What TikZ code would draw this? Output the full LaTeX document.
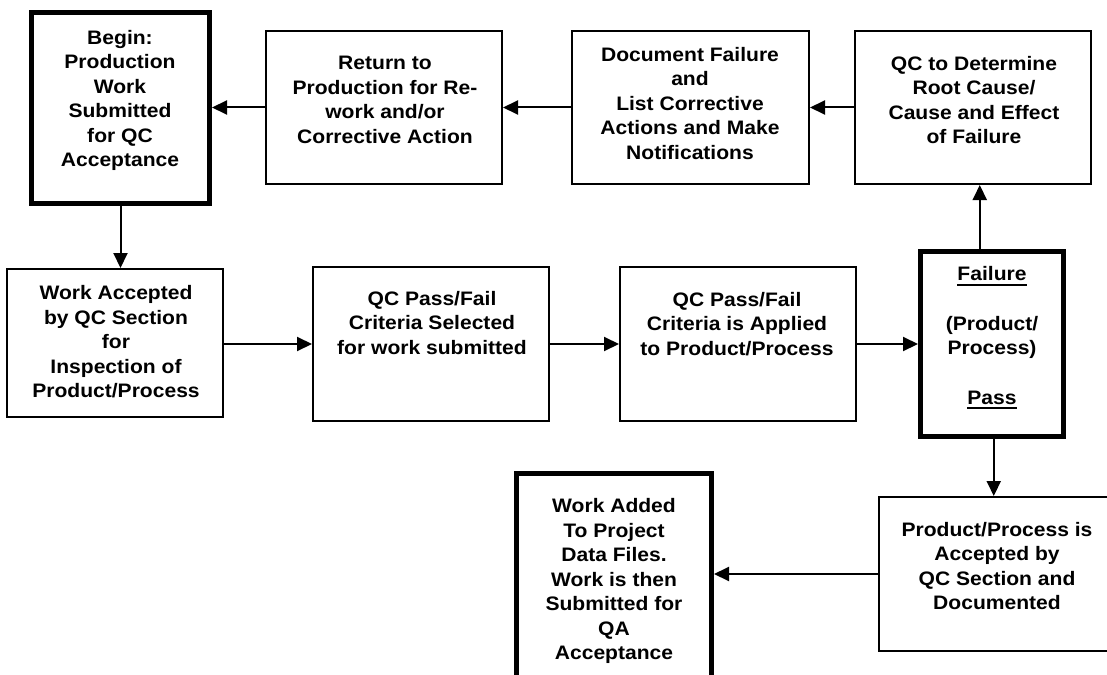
\documentclass[tikz,border=0pt]{standalone}
\usepackage{fontspec}
\setmainfont{Liberation Sans}[FakeStretch=1.08]
\usetikzlibrary{arrows.meta}
\newcommand\ulx[1]{\setbox0=\hbox{#1}\rlap{\rule[-5pt]{\wd0}{2pt}}\box0}
\tikzset{
  box/.style={draw=black, line width=2pt, rectangle, inner sep=0pt},
  thickbox/.style={draw=black, line width=5pt, rectangle, inner sep=0pt},
  txt/.style={font=\fontsize{19.5}{24.5}\selectfont\bfseries, align=center, inner sep=0pt},
  arr/.style={line width=2pt, -{Triangle[length=15pt,width=14pt]}},
}
\begin{document}
\begin{tikzpicture}[x=1pt,y=-1pt]
\useasboundingbox (0,0) rectangle (1107,674);
% boxes (centre, width, height)
\node[thickbox, minimum width=178pt, minimum height=191pt] (begin) at (120.5,108) {};
\node[box, minimum width=236pt, minimum height=153pt] (ret) at (384,107.5) {};
\node[box, minimum width=237pt, minimum height=153pt] (doc) at (690.5,107.5) {};
\node[box, minimum width=236pt, minimum height=153pt] (rc) at (973,107.5) {};
\node[box, minimum width=216pt, minimum height=148pt] (acc) at (115,343) {};
\node[box, minimum width=236pt, minimum height=154pt] (sel) at (431,344) {};
\node[box, minimum width=236pt, minimum height=154pt] (app) at (738,344) {};
\node[thickbox, minimum width=142.5pt, minimum height=184.5pt] (fail) at (991.75,343.75) {};
\node[box, minimum width=261pt, minimum height=154pt] (prod) at (1009.5,574) {};
\node[thickbox, minimum width=195pt, minimum height=205pt] (add) at (614,576) {};
% texts
\node[txt] (begin-t) at (120,100.5) {Begin:\\Production\\Work\\Submitted\\for QC\\Acceptance};
\node[txt] (ret-t) at (385,100) {Return to\\Production for Re-\\work and/or\\Corrective Action};
\node[txt] (doc-t) at (690,103.5) {Document Failure\\and\\List Corrective\\Actions and Make\\Notifications};
\node[txt] (rc-t) at (974,100) {QC to Determine\\Root Cause/\\Cause and Effect\\of Failure};
\node[txt] (acc-t) at (116,342) {Work Accepted\\by QC Section\\for\\Inspection of\\Product/Process};
\node[txt] (sel-t) at (432,323) {QC Pass/Fail\\Criteria Selected\\for work submitted};
\node[txt] (app-t) at (737,324) {QC Pass/Fail\\Criteria is Applied\\to Product/Process};
\node[txt] (fail-t) at (992,338) {\ulx{Failure}\\[25pt](Product/\\Process)\\[25pt]\ulx{Pass}};
\node[txt] (prod-t) at (997,566) {Product/Process is\\Accepted by\\QC Section and\\Documented};
\node[txt] (add-t) at (614,581) {Work Added\\To Project\\Data Files.\\Work is then\\Submitted for\\QA\\Acceptance};
% connectors
\draw[arr] (ret.west) -- (begin.east |- ret.west);
\draw[arr] (doc.west) -- (ret.east |- doc.west);
\draw[arr] (rc.west) -- (doc.east |- rc.west);
\draw[arr] ([xshift=-12pt]fail.north) -- ([xshift=-12pt]fail.north |- rc.south);
\draw[arr] (begin.south) -- (begin.south |- acc.north);
\draw[arr] (acc.east |- sel.west) -- (sel.west);
\draw[arr] (sel.east) -- (app.west);
\draw[arr] (app.east) -- (fail.west |- app.east);
\draw[arr] ([xshift=2pt]fail.south) -- ([xshift=2pt]fail.south |- prod.north);
\draw[arr] (prod.west) -- (add.east |- prod.west);
\end{tikzpicture}
\end{document}
